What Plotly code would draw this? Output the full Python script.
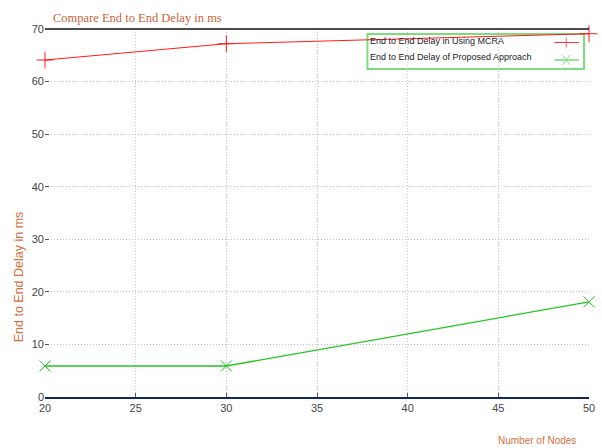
import plotly.graph_objects as go

# Data
nodes = [20, 30, 50]
delay_mcra = [64.1, 67.2, 69.1]
delay_proposed = [5.9, 5.9, 18.1]
series_names = ["End to End Delay in Using MCRA", "End to End Delay of Proposed Approach"]
x_ticks = [20, 25, 30, 35, 40, 45, 50]
y_ticks = [0, 10, 20, 30, 40, 50, 60, 70]

W, H = 602, 448
L, R, T, B = 45, 7, 29, 51
PW, PH = W - L - R, H - T - B


def px(x):
    return (x - L) / PW


def py(y):
    return (H - B - y) / PH


fig = go.Figure()

fig.add_trace(go.Scatter(
    x=nodes, y=delay_mcra, mode="lines+markers", name=series_names[0],
    line=dict(color="#ff1a1a", width=1),
    marker=dict(symbol="cross-thin-open", size=12, line=dict(color="#ff6a6a", width=1)),
    cliponaxis=False, showlegend=False,
))
fig.add_trace(go.Scatter(
    x=nodes, y=delay_proposed, mode="lines+markers", name=series_names[1],
    line=dict(color="#22c422", width=1.3),
    marker=dict(symbol="x-thin-open", size=11, line=dict(color="#80e080", width=1)),
    cliponaxis=False, showlegend=False,
))

tick_font = dict(family="Liberation Sans, Arial, sans-serif", size=11, color="#444444")
label_color = "#d4703f"

fig.update_xaxes(
    range=[20, 50], tickvals=x_ticks, showgrid=True, gridcolor="#c4c4c4", griddash="1px,2px",
    gridwidth=1, zeroline=False, showline=True, linecolor="#12285c", linewidth=2,
    ticks="inside", ticklen=4, tickcolor="#555555", tickfont=tick_font,
)
fig.update_yaxes(
    range=[0, 70], tickvals=y_ticks, showgrid=True, gridcolor="#c4c4c4", griddash="1px,2px",
    gridwidth=1, zeroline=False, showline=False,
    ticks="inside", ticklen=4, tickcolor="#555555", tickfont=tick_font,
)

shapes = []
# top border
shapes.append(dict(type="line", xref="paper", yref="paper", x0=0, x1=1, y0=1, y1=1,
                   line=dict(color="#111111", width=1.5)))

# legend box
shapes.append(dict(type="rect", xref="paper", yref="paper",
                   x0=px(371), x1=px(590), y0=py(69), y1=py(34),
                   line=dict(color="#7ddc7d", width=2), fillcolor="rgba(255,255,255,0)",
                   layer="below"))
# legend samples
leg_y = [42.5, 60]
leg_cols = ["#ff3333", "#33c433"]
for yy, col in zip(leg_y, leg_cols):
    shapes.append(dict(type="line", xref="paper", yref="paper",
                       x0=px(560), x1=px(585), y0=py(yy), y1=py(yy),
                       line=dict(color=col, width=1)))
# plus sample
shapes.append(dict(type="line", xref="paper", yref="paper",
                   x0=px(572), x1=px(572), y0=py(leg_y[0] - 5), y1=py(leg_y[0] + 5),
                   line=dict(color="#ff5a5a", width=1)))
# cross sample
for d in (1, -1):
    shapes.append(dict(type="line", xref="paper", yref="paper",
                       x0=px(568), x1=px(576), y0=py(leg_y[1] - 5 * d), y1=py(leg_y[1] + 5 * d),
                       line=dict(color="#88e088", width=1)))

annotations = [
    dict(text="Compare End to End Delay in ms", xref="paper", yref="paper",
         x=px(51), y=py(18), xanchor="left", yanchor="middle", showarrow=False,
         font=dict(family="Liberation Serif, Times New Roman, serif", size=12.5, color="#c8643c")),
    dict(text="End to End Delay in ms", xref="paper", yref="paper",
         x=px(19), y=py(277), xanchor="center", yanchor="middle", textangle=-90, showarrow=False,
         font=dict(family="Liberation Sans, Arial, sans-serif", size=12.5, color=label_color)),
    dict(text="Number of Nodes", xref="paper", yref="paper",
         x=px(542), y=py(440), xanchor="center", yanchor="middle", showarrow=False,
         font=dict(family="Liberation Sans, Arial, sans-serif", size=10, color=label_color)),
]
for name, yy in zip(series_names, [41, 57]):
    annotations.append(dict(text=name, xref="paper", yref="paper",
                            x=px(372), y=py(yy), xanchor="left", yanchor="middle", showarrow=False,
                            font=dict(family="Liberation Sans, Arial, sans-serif", size=9, color="#222222")))

fig.update_layout(
    width=W, height=H, margin=dict(l=L, r=R, t=T, b=B),
    paper_bgcolor="white", plot_bgcolor="white",
    shapes=shapes, annotations=annotations, showlegend=False,
)

fig.write_html("out.html")
